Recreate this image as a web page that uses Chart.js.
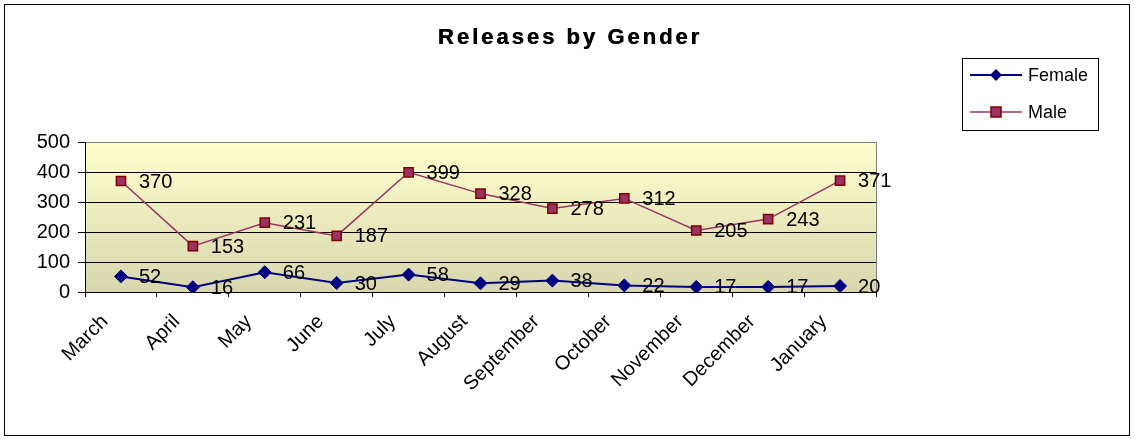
<!DOCTYPE html>
<html>
<head>
<meta charset="utf-8">
<title>Releases by Gender</title>
<script src="https://cdn.jsdelivr.net/npm/chart.js@4"></script>
<style>
    html, body { margin: 0; padding: 0; background: #fff; }
    #wrap { width: 1134px; height: 439px; position: relative; }
</style>
</head>
<body>
<div id="wrap"><canvas id="genderChart" width="1134" height="439"></canvas></div>
<script>
const chartTitle = 'Releases by Gender';
const months = ['March', 'April', 'May', 'June', 'July', 'August', 'September', 'October', 'November', 'December', 'January'];
const female = [52, 16, 66, 30, 58, 29, 38, 22, 17, 17, 20];
const male = [370, 153, 231, 187, 399, 328, 278, 312, 205, 243, 371];
const yTicks = [0, 100, 200, 300, 400, 500];

const FONT = 'Arial, "Liberation Sans", sans-serif';

// plot background, outer frame, title, point labels and the boxed legend
const decorations = {
    id: 'decorations',
    beforeDraw(chart) {
        const { ctx, chartArea: a } = chart;
        ctx.save();
        ctx.fillStyle = '#fff';
        ctx.fillRect(0, 0, chart.width, chart.height);
        const g = ctx.createLinearGradient(0, a.top, 0, a.bottom);
        g.addColorStop(0, '#ffffcc');
        g.addColorStop(1, '#d8d6ae');
        ctx.fillStyle = g;
        ctx.fillRect(a.left, a.top, a.right - a.left, a.bottom - a.top);
        ctx.strokeStyle = '#808080';
        ctx.lineWidth = 1;
        ctx.beginPath();
        ctx.moveTo(a.left, a.top + 0.5);
        ctx.lineTo(a.right + 0.5, a.top + 0.5);
        ctx.lineTo(a.right + 0.5, a.bottom);
        ctx.stroke();
        ctx.restore();
    },
    afterDraw(chart) {
        const ctx = chart.ctx;
        ctx.save();
        // outer frame
        ctx.strokeStyle = '#000';
        ctx.lineWidth = 1;
        ctx.strokeRect(4.5, 4.5, 1125, 431);

        // title, spaced out a little like the original
        ctx.font = 'bold 22px ' + FONT;
        ctx.letterSpacing = '3px';
        ctx.fillStyle = '#000';
        ctx.textAlign = 'center';
        ctx.textBaseline = 'alphabetic';
        ctx.fillText(chartTitle, 570, 44);
        ctx.fillText(chartTitle, 570.5, 44);
        ctx.letterSpacing = '0px';

        // value labels
        ctx.font = '20px ' + FONT;
        ctx.textAlign = 'left';
        ctx.textBaseline = 'middle';
        chart.data.datasets.forEach((ds, i) => {
            chart.getDatasetMeta(i).data.forEach((pt, j) => {
                ctx.fillText(String(ds.data[j]), pt.x + 18, pt.y + 1);
            });
        });

        // legend
        const lx = 962, ly = 58, lw = 136, lh = 72;
        ctx.strokeStyle = '#000';
        ctx.lineWidth = 1;
        ctx.strokeRect(lx + 0.5, ly + 0.5, lw, lh);
        chart.data.datasets.forEach((ds, i) => {
            const y = ly + 17 + i * 37;
            ctx.strokeStyle = ds.borderColor;
            ctx.lineWidth = ds.borderWidth;
            ctx.beginPath();
            ctx.moveTo(lx + 8, y);
            ctx.lineTo(lx + 60, y);
            ctx.stroke();
            ctx.fillStyle = ds.pointBackgroundColor;
            ctx.strokeStyle = ds.pointBorderColor;
            ctx.lineWidth = ds.pointBorderWidth;
            if (ds.pointStyle === 'rectRot') {
                ctx.beginPath();
                ctx.moveTo(lx + 34, y - 6);
                ctx.lineTo(lx + 40, y);
                ctx.lineTo(lx + 34, y + 6);
                ctx.lineTo(lx + 28, y);
                ctx.closePath();
                ctx.fill();
            } else {
                ctx.fillRect(lx + 29, y - 5, 10, 10);
                ctx.strokeRect(lx + 29, y - 5, 10, 10);
            }
            ctx.fillStyle = '#000';
            ctx.font = '18px ' + FONT;
            ctx.fillText(ds.label, lx + 66, y + 1);
        });
        ctx.restore();
    }
};

const ctx = document.getElementById('genderChart').getContext('2d');
window.genderChart = new Chart(ctx, {
    type: 'line',
    data: {
        labels: months,
        datasets: [{
            label: 'Female',
            data: female,
            borderColor: '#000080',
            borderWidth: 2,
            pointStyle: 'rectRot',
            pointRadius: 6.5,
            pointBackgroundColor: '#000080',
            pointBorderColor: '#000080',
            pointBorderWidth: 1,
            tension: 0
        }, {
            label: 'Male',
            data: male,
            borderColor: '#993366',
            borderWidth: 1.5,
            pointStyle: 'rect',
            pointRadius: 6.5,
            pointBackgroundColor: '#993366',
            pointBorderColor: '#800000',
            pointBorderWidth: 1.5,
            tension: 0
        }]
    },
    options: {
        responsive: false,
        animation: false,
        events: [],
        layout: { padding: { left: 10, right: 258, top: 142, bottom: 0 } },
        plugins: {
            legend: { display: false },
            tooltip: { enabled: false },
            title: { display: false }
        },
        scales: {
            x: {
                offset: true,
                grid: { offset: true, drawOnChartArea: false, color: '#000', tickLength: 5 },
                border: { color: '#000', width: 1 },
                ticks: {
                    color: '#000',
                    font: { family: FONT, size: 20 },
                    minRotation: 45,
                    maxRotation: 45,
                    autoSkip: false,
                    padding: 13,
                    labelOffset: -16
                },
                afterFit(scale) { scale.height = 147; }
            },
            y: {
                min: 0,
                max: 500,
                afterBuildTicks(scale) { scale.ticks = yTicks.map(v => ({ value: v })); },
                grid: {
                    color: ctx => (ctx.tick && ctx.tick.value === 500) ? 'rgba(0,0,0,0)' : '#000',
                    tickColor: '#000',
                    tickLength: 7
                },
                border: { color: '#000', width: 1 },
                ticks: {
                    color: '#000',
                    font: { family: FONT, size: 20 },
                    padding: 8
                },
                afterFit(scale) { scale.width = 75; }
            }
        }
    },
    plugins: [decorations]
});
</script>
</body>
</html>
